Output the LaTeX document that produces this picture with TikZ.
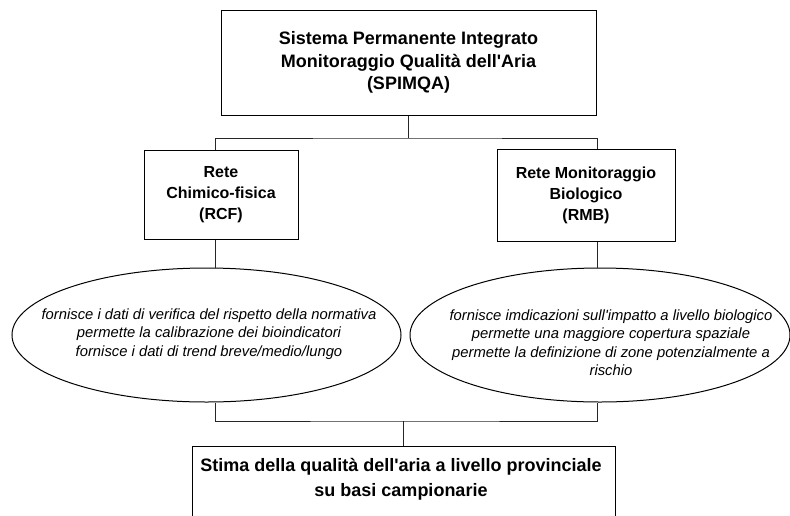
\documentclass[tikz,border=0pt]{standalone}
\usepackage{fontspec}
\setmainfont{Liberation Sans}
\newfontfamily\arialf{Liberation Sans}
\usetikzlibrary{shapes.geometric}
\begin{document}
\begin{tikzpicture}[x=1pt,y=-1pt,
  box/.style={draw=black, line width=1pt, inner sep=0pt, align=center},
  ell/.style={draw=black, ellipse, line width=1pt, inner sep=0pt},
  conn/.style={draw=black!85, line width=1pt},
  ttl/.style={font=\arialf\bfseries\fontsize{18}{22.5}\selectfont},
  mid/.style={font=\arialf\bfseries\fontsize{16}{21}\selectfont},
  itx/.style={align=center, inner sep=0pt, font=\arialf\itshape\fontsize{14.8}{18.5}\selectfont},
  btx/.style={align=center, inner sep=0pt, font=\arialf\bfseries\fontsize{18}{25}\selectfont}]
\useasboundingbox (0,0) rectangle (790,515);
\clip (0,0) rectangle (790,515);

% boxes
\node[box, ttl, minimum width=375pt, minimum height=105pt] (spim) at (408.5,62.5)
  {Sistema Permanente Integrato\\Monitoraggio Qualità dell'Aria\\(SPIMQA)};
\node[box, mid, minimum width=154pt, minimum height=89pt] (rcf) at (221,194.5)
  {Rete\\Chimico-fisica\\(RCF)};
\node[box, mid, minimum width=178pt, minimum height=92pt] (rmb) at (586,195)
  {Rete Monitoraggio\\Biologico\\(RMB)};

% ellipses
\node[ell, minimum width=389pt, minimum height=134pt] (lell) at (206.5,335) {};
\node[ell, minimum width=380pt, minimum height=134pt] (rell) at (600,335) {};
\node[itx] (ltxt) at (209,334)
  {fornisce i dati di verifica del rispetto della normativa\\permette la calibrazione dei bioindicatori\\fornisce i dati di trend breve/medio/lungo};
\node[itx] (rtxt) at (611,342.5)
  {fornisce imdicazioni sull'impatto a livello biologico\\permette una maggiore copertura spaziale\\permette la definizione di zone potenzialmente a\\rischio};

% bottom box (open at the bottom of the page)
\node[box, anchor=north, minimum width=423pt, minimum height=100pt] (stima) at (403.5,446) {};
\node[btx] (stimatxt) at (401,479.5)
  {Stima della qualità dell'aria a livello provinciale\\su basi campionarie};

% connectors
\coordinate (xl) at (215,0);
\coordinate (xr) at (597,0);
\coordinate (bus1) at (408.5,138);
\coordinate (bus2) at (403.5,421);
\draw[conn] (spim.south) -- (bus1);
\draw[conn] (rcf.north -| xl) |- (bus1) -| (rmb.north -| xr);
\draw[conn] (rcf.south -| xl) -- (lell.north -| xl);
\draw[conn] (rmb.south -| xr) -- (rell.north -| xr);
\draw[conn] (lell.south -| xl) |- (bus2) -| (rell.south -| xr);
\draw[conn] (bus2) -- (stima.north);
\end{tikzpicture}
\end{document}
